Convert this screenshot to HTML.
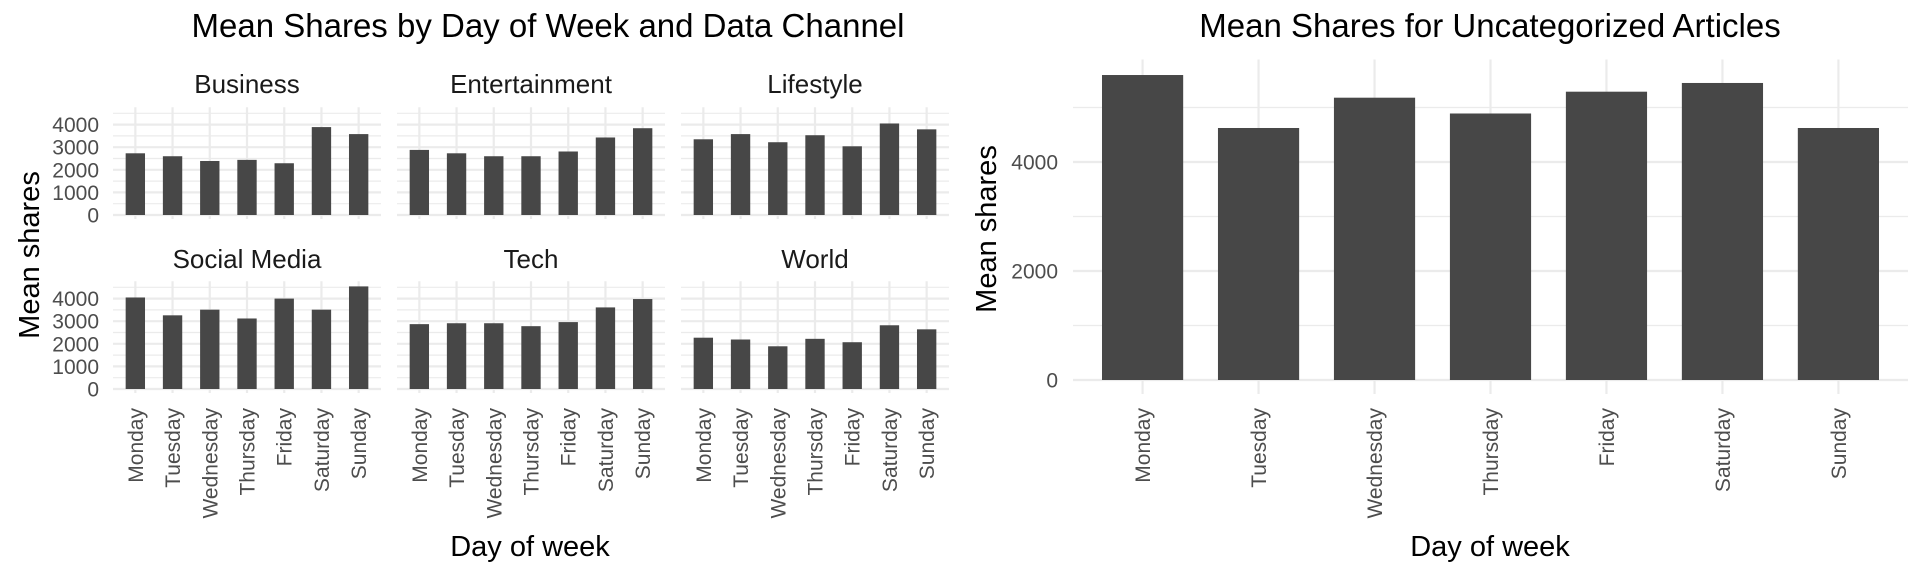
<!DOCTYPE html>
<html><head><meta charset="utf-8"><style>
html,body{margin:0;padding:0;background:#fff;}
svg{display:block;font-family:"Liberation Sans",Arial,sans-serif;}
</style></head><body>
<svg id="chart" width="1920" height="576" viewBox="0 0 1920 576">
<text x="548" y="37" font-size="33" text-anchor="middle" fill="#000">Mean Shares by Day of Week and Data Channel</text>
<text x="1490" y="37" font-size="33" text-anchor="middle" fill="#000">Mean Shares for Uncategorized Articles</text>
<text transform="translate(39,255) rotate(-90)" font-size="29" text-anchor="middle" fill="#000">Mean shares</text>
<text transform="translate(996,229) rotate(-90)" font-size="29" text-anchor="middle" fill="#000">Mean shares</text>
<text x="530" y="556" font-size="29" text-anchor="middle" fill="#000">Day of week</text>
<text x="1490" y="556" font-size="29" text-anchor="middle" fill="#000">Day of week</text>
<g id="facets"></g>
<g id="right"></g>
</svg>
<script>
const days = ["Monday","Tuesday","Wednesday","Thursday","Friday","Saturday","Sunday"];
const channels = ["Business","Entertainment","Lifestyle","Social Media","Tech","World"];
const business = [2730,2600,2390,2440,2290,3890,3580];
const entertainment = [2880,2730,2600,2600,2810,3430,3840];
const lifestyle = [3350,3580,3220,3530,3040,4050,3790];
const socialMedia = [4050,3260,3510,3120,4000,3510,4540];
const tech = [2870,2910,2910,2780,2960,3610,3980];
const world = [2270,2190,1890,2220,2070,2820,2640];
const facetTicks = [0,1000,2000,3000,4000];
const uncategorized = [5596,4624,5180,4890,5290,5450,4624];
const rightTicks = [0,2000,4000];

const NS = "http://www.w3.org/2000/svg";
function mk(tag, attrs, parent){const e=document.createElementNS(NS,tag);for(const k in attrs)e.setAttribute(k,attrs[k]);parent.appendChild(e);return e;}
const GRID="#EBEBEB", BAR="#474747", TICK="#4D4D4D";

const facetG = document.getElementById('facets');
const series = [business,entertainment,lifestyle,socialMedia,tech,world];
const colX = [113,397,681];
const pw = 268;
const rowZero = [215,389];
const pxPer = 0.0226;
const yMaxF = 4770;
function fx(col,i){const step=pw/7.2;return colX[col]+step*(0.6+i);}
function fy(row,v){return rowZero[row]-v*pxPer;}
series.forEach((vals,k)=>{
  const col=k%3,row=Math.floor(k/3);
  const g=mk('g',{},facetG);
  
  
  const top=fy(row,yMaxF), bot=rowZero[row]+2;
  for(let v=500;v<=4500;v+=1000){const y=fy(row,v);mk('line',{x1:colX[col],x2:colX[col]+pw,y1:y,y2:y,stroke:GRID,'stroke-width':1.2},g);}
  facetTicks.forEach(v=>{const y=fy(row,v);mk('line',{x1:colX[col],x2:colX[col]+pw,y1:y,y2:y,stroke:GRID,'stroke-width':2.2},g);});
  days.forEach((d,i)=>{const x=fx(col,i);mk('line',{x1:x,x2:x,y1:top,y2:bot+2,stroke:GRID,'stroke-width':2.2},g);});
  const step=pw/7.2,bw=step*0.52;
  vals.forEach((v,i)=>{
    const r=mk('rect',{x:fx(col,i)-bw/2,y:fy(row,v),width:bw,height:v*pxPer,fill:BAR},g);
    
    
  });
  const t=mk('text',{x:colX[col]+pw/2,y:row===0?93:268,'font-size':26,'text-anchor':'middle',fill:'#1A1A1A'},g);
  t.textContent=channels[k];
  
  
  if(col===0){facetTicks.forEach(v=>{const tt=mk('text',{x:99,y:fy(row,v)+7.5,'font-size':21,'text-anchor':'end',fill:TICK},g);tt.textContent=v;
    
    });}
  if(row===1){days.forEach((d,i)=>{const x=fx(col,i);const tt=mk('text',{transform:'translate('+(x+7.5)+',408) rotate(-90)','font-size':21,'text-anchor':'end',fill:TICK},g);tt.textContent=d;
    
    });}
});

const rg=document.getElementById('right');
const rL=1073,rW=835,rZero=380,rPx=0.0545;
function rx(i){const step=rW/7.2;return rL+step*(0.6+i);}
function ry(v){return rZero-v*rPx;}
const rTop=ry(5880);
for(let v=1000;v<=5000;v+=2000){const y=ry(v);mk('line',{x1:rL,x2:rL+rW,y1:y,y2:y,stroke:GRID,'stroke-width':1.2},rg);}
rightTicks.forEach(v=>{const y=ry(v);mk('line',{x1:rL,x2:rL+rW,y1:y,y2:y,stroke:GRID,'stroke-width':2.2},rg);
  const tt=mk('text',{x:1058,y:y+7.5,'font-size':21,'text-anchor':'end',fill:TICK},rg);tt.textContent=v;
  
  });
days.forEach((d,i)=>{const x=rx(i);mk('line',{x1:x,x2:x,y1:rTop,y2:rZero+14,stroke:GRID,'stroke-width':2.2},rg);
  const tt=mk('text',{transform:'translate('+(x+7.5)+',408) rotate(-90)','font-size':21,'text-anchor':'end',fill:TICK},rg);tt.textContent=d;
  
  });
const rbw=rW/7.2*0.7;
uncategorized.forEach((v,i)=>{
  const r=mk('rect',{x:rx(i)-rbw/2,y:ry(v),width:rbw,height:v*rPx,fill:BAR},rg);
  
  
});
</script>
</body></html>
